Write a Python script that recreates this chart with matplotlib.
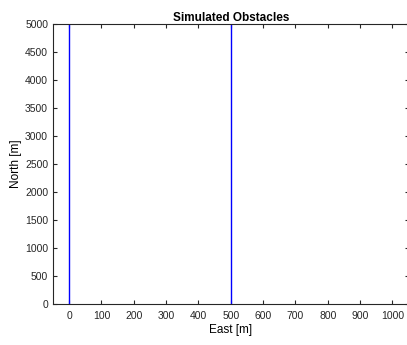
import matplotlib
matplotlib.use("Agg")
import matplotlib.pyplot as plt

# obstacle walls: east position [m] and north extent [m]
obstacle_east = [0, 500]
obstacle_north_start = [0, 0]
obstacle_north_end = [5000, 5000]

x_ticks = list(range(0, 1001, 100))
y_ticks = list(range(0, 5001, 500))

plt.rcParams['font.family'] = ['Liberation Sans', 'DejaVu Sans']

fig = plt.figure(figsize=(4.07, 3.45), dpi=100)
ax = fig.add_axes([0.1302, 0.1188, 0.8735, 0.8116])

# draw each obstacle as a vertical wall
for e, n0, n1 in zip(obstacle_east, obstacle_north_start, obstacle_north_end):
    ax.plot([e, e], [n0, n1], color=(0, 0, 1), linewidth=1.0)

ax.set_xlim(-50, 1050)
ax.set_ylim(0, 5000)
ax.set_xticks(x_ticks)
ax.set_yticks(y_ticks)
ax.tick_params(direction='in', length=3, width=0.8, labelsize=7.5,
               top=True, right=True, colors='#262626', labelcolor='#262626')
ax.tick_params(axis='x', pad=5)
for s in ax.spines.values():
    s.set_linewidth(0.8)
    s.set_color('#262626')

ax.set_title("Simulated Obstacles", fontsize=8.5, fontweight='bold', pad=2.5)
ax.set_xlabel("East [m]", fontsize=8.5, labelpad=2)
ax.set_ylabel("North [m]", fontsize=8.5, labelpad=2)

fig.savefig("out.png", dpi=100)
